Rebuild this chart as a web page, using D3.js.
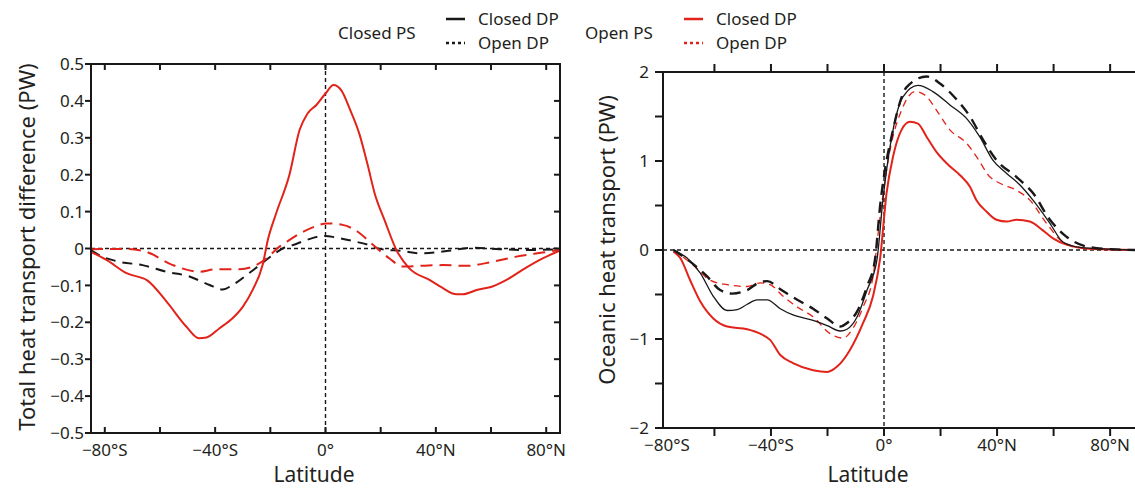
<!DOCTYPE html>
<html>
<head>
<meta charset="utf-8">
<script src="https://cdn.jsdelivr.net/npm/d3@7"></script>
<style>
	body { margin: 0; background: #fff; }
	text { font-family: "Noto Sans", "Open Sans", sans-serif; fill: #231f20; }
</style>
</head>
<body>
<div id="chart"></div>
<script>

//----------------------------
// Data
//----------------------------

// Left panel: total heat transport difference (PW)
var totRedSolidLat = [-85, -79.4, -72.1, -64.5, -57.6, -50.4, -45.9, -43.1, -38.4, -33.7, -30, -26.4, -22.8, -20.9, -17.9, -13.1, -9.4, -6.5, -3.3, 0, 2.9, 5.8, 8.7, 12.3, 15.3, 17.8, 21.4, 25.7, 30.4, 37.7, 42, 47.5, 49.7, 55.1, 60.5, 65.6, 71.4, 78.7, 84.8];
var totRedSolidVal = [-0.009, -0.031, -0.067, -0.087, -0.144, -0.212, -0.243, -0.241, -0.216, -0.189, -0.158, -0.112, -0.045, 0.023, 0.095, 0.199, 0.321, 0.366, 0.389, 0.42, 0.443, 0.428, 0.38, 0.31, 0.226, 0.15, 0.077, -0.004, -0.054, -0.085, -0.105, -0.124, -0.124, -0.112, -0.103, -0.085, -0.058, -0.027, -0.006];

var totRedDashLat = [-85, -72, -65, -55.3, -45.7, -39.6, -31.2, -26.4, -21.4, -16.7, -14.1, -8.7, -3.3, 0.4, 6.2, 12.3, 16, 23.2, 27.9, 34, 42.4, 51.1, 60.5, 69.2, 78.7, 84.8];
var totRedDashVal = [-0.002, -0.001, -0.009, -0.045, -0.063, -0.056, -0.056, -0.049, -0.027, 0.005, 0.018, 0.043, 0.061, 0.068, 0.064, 0.042, 0.018, -0.027, -0.049, -0.047, -0.045, -0.047, -0.036, -0.022, -0.011, -0.004];

var totBlackDashLat = [-85, -82, -74.7, -66.3, -57.6, -49.3, -42, -37.3, -33.7, -28.6, -23.9, -19.2, -14.1, -12, -6.9, -0.4, 5.1, 11.2, 16, 19.6, 27.9, 34, 43.9, 53.3, 63, 72.8, 84.8];
var totBlackDashVal = [-0.004, -0.018, -0.036, -0.045, -0.063, -0.076, -0.099, -0.111, -0.099, -0.072, -0.045, -0.018, 0.005, 0.009, 0.023, 0.034, 0.028, 0.018, 0.009, -0.001, -0.007, -0.013, -0.007, 0.002, -0.002, -0.004, -0.002];

// Right panel: oceanic heat transport (PW)
var ocnBlackSolidLat = [-74.5, -69.7, -65, -60.4, -55.5, -51.9, -48.4, -44.9, -41.3, -36.7, -32.2, -25.1, -20.1, -15.5, -13.1, -9.5, -6, -2.5, -0.4, 3.2, 6.7, 12, 17.3, 23.3, 29.7, 33.9, 38.5, 43.4, 48.1, 52.7, 58.7, 63.3, 69.3, 79.9, 88.8];
var ocnBlackSolidVal = [0, -0.09, -0.26, -0.52, -0.68, -0.67, -0.61, -0.56, -0.56, -0.66, -0.73, -0.79, -0.85, -0.91, -0.89, -0.75, -0.45, -0.11, 0.56, 1.35, 1.72, 1.85, 1.78, 1.63, 1.46, 1.27, 1.01, 0.86, 0.73, 0.56, 0.30, 0.09, 0.03, 0.01, 0];

var ocnBlackDashLat = [-74.5, -68.6, -62.5, -58, -53.7, -48.4, -43.8, -41.3, -36.7, -30.7, -25.1, -20.1, -15.5, -13.1, -9.5, -6, -3.2, -1.4, 3.2, 8, 15.1, 19.8, 25.7, 30.4, 35, 39.8, 46.9, 52.7, 58.7, 64.5, 71.6, 79.9, 88.8];
var ocnBlackDashVal = [0, -0.13, -0.30, -0.45, -0.49, -0.45, -0.36, -0.35, -0.44, -0.56, -0.66, -0.77, -0.86, -0.82, -0.69, -0.41, -0.11, 0.49, 1.35, 1.83, 1.95, 1.87, 1.69, 1.50, 1.24, 1.01, 0.82, 0.64, 0.34, 0.15, 0.04, 0.01, 0];

var ocnRedSolidLat = [-74.5, -72.1, -68.6, -65, -60.4, -55.5, -48.4, -43.8, -40.3, -36.7, -32.2, -25.1, -20.1, -16.6, -12, -7.4, -3.9, -1.4, 0.9, 3.2, 6.2, 9.2, 12, 15.1, 18.6, 23.3, 26.9, 30.4, 32.7, 36.3, 39.8, 43.4, 46.9, 51.6, 56.2, 59.8, 64.5, 73.9, 88.8];
var ocnRedSolidVal = [-0.02, -0.09, -0.34, -0.58, -0.77, -0.86, -0.89, -0.94, -1.01, -1.18, -1.27, -1.35, -1.37, -1.31, -1.12, -0.82, -0.52, -0.10, 0.64, 1.05, 1.35, 1.44, 1.42, 1.27, 1.10, 0.94, 0.84, 0.71, 0.56, 0.43, 0.34, 0.32, 0.34, 0.32, 0.22, 0.13, 0.06, 0.01, 0];

var ocnRedDashLat = [-74.5, -67.5, -61.5, -55.5, -48.4, -43.8, -40.3, -35.7, -30.7, -25.1, -19.1, -14.5, -11, -7.4, -3.9, -1.4, 2.1, 6.2, 11, 14.5, 18.6, 23.3, 29.2, 32.7, 37.5, 41, 46.9, 51.6, 57.5, 63.3, 71.6, 88.8];
var ocnRedDashVal = [0, -0.17, -0.34, -0.39, -0.41, -0.37, -0.39, -0.52, -0.64, -0.75, -0.94, -0.99, -0.88, -0.64, -0.30, 0.37, 1.12, 1.57, 1.78, 1.74, 1.57, 1.35, 1.20, 1.05, 0.82, 0.75, 0.67, 0.56, 0.30, 0.09, 0.02, 0];

// Ticks
var latTicks = [-80, -60, -40, -20, 0, 20, 40, 60, 80];
var latLabels = [-80, -40, 0, 40, 80];
var totTicks = [-0.5, -0.4, -0.3, -0.2, -0.1, 0, 0.1, 0.2, 0.3, 0.4, 0.5];
var ocnTicks = [-2, -1.5, -1, -0.5, 0, 0.5, 1, 1.5, 2];
var ocnLabels = [-2, -1, 0, 1, 2];

var red = "#e2231a",
	black = "#1a1718";

//----------------------------
// Canvas
//----------------------------

var totwidth = 1135,
	totheight = 488;

var svg = d3.select("#chart").append("svg")
	.attr("width", totwidth)
	.attr("height", totheight);

svg.append("rect")
	.attr("width", totwidth)
	.attr("height", totheight)
	.attr("fill", "white");

function zip(lat, val) {
	return lat.map(function(d, i) { return {lat: d, v: val[i]}; });
}

function latFormat(d) {
	if (d === 0) return "0\u00b0";
	return d < 0 ? "\u2212" + Math.abs(d) + "\u00b0S" : d + "\u00b0N";
}

function numFormat(d) {
	var s = String(Math.round(Math.abs(d) * 10) / 10);
	return d < 0 ? "\u2212" + s : s;
}

//----------------------------
// Panel drawing routine
//----------------------------

function panel(opt) {
	var x = opt.x, y = opt.y;
	var g = svg.append("g");
	var x0 = x.range()[0], x1 = x.range()[1];
	var y0 = y.range()[0], y1 = y.range()[1];

	// Zero reference lines
	g.append("line")
		.attr("x1", x0).attr("x2", x1)
		.attr("y1", y(0)).attr("y2", y(0))
		.attr("stroke", black).attr("stroke-width", 1.4)
		.attr("stroke-dasharray", "4,3");
	g.append("line")
		.attr("x1", x(0)).attr("x2", x(0))
		.attr("y1", y1).attr("y2", y0)
		.attr("stroke", black).attr("stroke-width", 1.4)
		.attr("stroke-dasharray", "4,3");

	// Curves
	var line = d3.line()
		.x(function(d) { return x(d.lat); })
		.y(function(d) { return y(d.v); })
		.curve(d3.curveMonotoneX);

	opt.series.forEach(function(s) {
		g.append("path")
			.datum(s.data)
			.attr("fill", "none")
			.attr("stroke", s.color)
			.attr("stroke-width", s.width)
			.attr("stroke-dasharray", s.dash)
			.attr("stroke-linejoin", "round")
			.attr("d", line);
	});

	// Frame
	var fw = 2;
	var frame = g.append("g")
		.attr("stroke", black)
		.attr("stroke-width", fw)
		.attr("stroke-linecap", "square");
	frame.append("line").attr("x1", x0).attr("x2", x0).attr("y1", y0).attr("y2", y1);
	frame.append("line").attr("x1", x0).attr("x2", x1).attr("y1", y0).attr("y2", y0);
	frame.append("line").attr("x1", x0).attr("x2", x1).attr("y1", y1).attr("y2", y1);
	if (opt.rightFrame) {
		frame.append("line").attr("x1", x1).attr("x2", x1).attr("y1", y0).attr("y2", y1);
	}

	var tl = opt.tickLen, xs = opt.xTickSign;
	var xt = latTicks.filter(function(d) { return x(d) >= x0 && x(d) <= x1; });
	xt.forEach(function(d) {
		frame.append("line").attr("x1", x(d)).attr("x2", x(d))
			.attr("y1", y0).attr("y2", y0 + xs * tl);
		frame.append("line").attr("x1", x(d)).attr("x2", x(d))
			.attr("y1", y1).attr("y2", y1 - xs * tl);
	});
	opt.yTicks.forEach(function(d) {
		frame.append("line").attr("x1", x0).attr("x2", x0 - tl)
			.attr("y1", y(d)).attr("y2", y(d));
		if (opt.rightFrame) {
			frame.append("line").attr("x1", x1).attr("x2", x1 - tl)
				.attr("y1", y(d)).attr("y2", y(d));
		}
	});

	// Tick labels
	g.selectAll(".xl")
		.data(latLabels)
		.enter().append("text")
			.attr("x", function(d) { return Math.max(x(d), x0 + 4); })
			.attr("y", y0 + 23)
			.attr("text-anchor", "middle")
			.style("font-size", "17px")
			.text(latFormat);

	g.selectAll(".yl")
		.data(opt.yLabels)
		.enter().append("text")
			.attr("x", x0 - opt.labelGap)
			.attr("y", function(d) { return y(d); })
			.attr("dy", "0.36em")
			.attr("text-anchor", "end")
			.style("font-size", "17px")
			.text(numFormat);

	// Axis titles
	g.append("text")
		.attr("x", opt.xTitleX)
		.attr("y", 482)
		.attr("text-anchor", "middle")
		.style("font-size", "21px")
		.text("Latitude");

	g.append("text")
		.attr("transform", "translate(" + opt.yTitleX + "," + opt.yTitleY + ") rotate(-90)")
		.attr("text-anchor", "middle")
		.style("font-size", "22px")
		.text(opt.yTitle);
}

//----------------------------
// Left panel
//----------------------------

var xL = d3.scaleLinear().domain([-85, 85]).range([91, 560]);
var yL = d3.scaleLinear().domain([-0.5, 0.5]).range([433, 64]);

panel({
	x: xL, y: yL,
	yTicks: totTicks, yLabels: totTicks,
	tickLen: 5, xTickSign: -1, rightFrame: true, labelGap: 7,
	xTitleX: 314, yTitleX: 35, yTitleY: 247,
	yTitle: "Total heat transport difference (PW)",
	series: [
		{data: zip(totBlackDashLat, totBlackDashVal), color: black, width: 2, dash: "10,7"},
		{data: zip(totRedDashLat, totRedDashVal), color: red, width: 2, dash: "12,7"},
		{data: zip(totRedSolidLat, totRedSolidVal), color: red, width: 2, dash: null}
	]
});

//----------------------------
// Right panel
//----------------------------

var xR = d3.scaleLinear().domain([-78.2, 88.8]).range([663, 1135]);
var yR = d3.scaleLinear().domain([-2, 2]).range([428, 72]);

panel({
	x: xR, y: yR,
	yTicks: ocnTicks, yLabels: ocnLabels,
	tickLen: 7, xTickSign: 1, rightFrame: false, labelGap: 14,
	xTitleX: 868, yTitleX: 615, yTitleY: 240,
	yTitle: "Oceanic heat transport (PW)",
	series: [
		{data: zip(ocnRedSolidLat, ocnRedSolidVal), color: red, width: 2, dash: null},
		{data: zip(ocnRedDashLat, ocnRedDashVal), color: red, width: 1.3, dash: "7,5"},
		{data: zip(ocnBlackSolidLat, ocnBlackSolidVal), color: black, width: 1.3, dash: null},
		{data: zip(ocnBlackDashLat, ocnBlackDashVal), color: black, width: 2.4, dash: "11,7"}
	]
});

//----------------------------
// Legend
//----------------------------

var legendGroups = ["Closed PS", "Open PS"];
var legendItems = ["Closed DP", "Open DP"];
var legendColors = [black, red];
var legendDash = [null, "3,3"];
var legendGroupX = [338, 585];
var legendSwatchX = [446, 684];

var lg = svg.append("g").style("font-size", "17px");

legendGroups.forEach(function(name, i) {
	lg.append("text")
		.attr("x", legendGroupX[i])
		.attr("y", 33)
		.attr("dy", "0.36em")
		.text(name);
	legendItems.forEach(function(item, j) {
		var yy = 19 + j * 24;
		lg.append("line")
			.attr("x1", legendSwatchX[i]).attr("x2", legendSwatchX[i] + 19)
			.attr("y1", yy).attr("y2", yy)
			.attr("stroke", legendColors[i])
			.attr("stroke-width", 2.5)
			.attr("stroke-dasharray", legendDash[j]);
		lg.append("text")
			.attr("x", legendSwatchX[i] + 32)
			.attr("y", yy)
			.attr("dy", "0.36em")
			.text(item);
	});
});

</script>
</body>
</html>
